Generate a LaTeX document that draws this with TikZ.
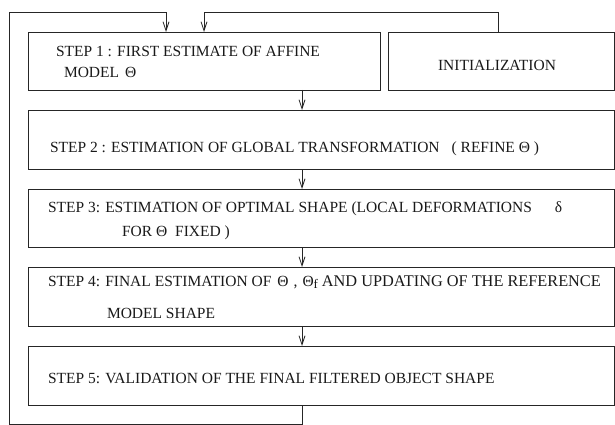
\documentclass[tikz,border=0pt]{standalone}
\usepackage{fontspec}
\setmainfont{Liberation Serif}
\usetikzlibrary{arrows.meta}
\tikzset{
  box/.style={draw=black!85, line width=0.8pt, rectangle, inner sep=0pt, outer sep=0pt, anchor=north west},
  lbl/.style={anchor=base west, inner sep=0pt, outer sep=0pt, font=\fontsize{15.5}{18}\selectfont, text=black!90},
  flow/.style={draw=black!85, line width=0.8pt, -{Straight Barb[length=9pt,width=6pt]}},
}
\begin{document}
\begin{tikzpicture}[x=1pt,y=-1pt]
\useasboundingbox (0,0) rectangle (615,425);
% boxes
\node[box, minimum width=352pt, minimum height=58pt] (step1) at (28,32) {};
\node[box, minimum width=226pt, minimum height=58pt] (init) at (388,32) {};
\node[box, minimum width=586pt, minimum height=59pt] (step2) at (28,110) {};
\node[box, minimum width=586pt, minimum height=58pt] (step3) at (28,189) {};
\node[box, minimum width=586pt, minimum height=59pt] (step4) at (28,267) {};
\node[box, minimum width=586pt, minimum height=59pt] (step5) at (28,346) {};
% texts
\node[lbl] (t1a) at (56,57) {STEP 1 : FIRST ESTIMATE OF AFFINE};
\node[lbl] (t1b) at (64,78) {MODEL\hspace{6pt}Θ};
\node[lbl, anchor=base] (tinit) at (497,71) {INITIALIZATION};
\node[lbl] (t2) at (50,152) {STEP 2 : ESTIMATION OF GLOBAL TRANSFORMATION\hspace{12pt}( REFINE Θ )};
\node[lbl] (t3a) at (48,212) {STEP 3: ESTIMATION OF OPTIMAL SHAPE (LOCAL DEFORMATIONS\hspace{23pt}δ};
\node[lbl] (t3b) at (122,236) {FOR Θ\hspace{8pt}FIXED )};
\node[lbl] (t4a) at (48,286) {STEP 4: FINAL ESTIMATION OF\hspace{6pt}Θ\hspace{5pt},\hspace{5pt}Θ\raisebox{-2.5pt}{\fontsize{13}{15}\selectfont f} {\fontsize{16.3}{18}\selectfont AND UPDATING OF THE REFERENCE}};
\node[lbl] (t4b) at (107,318) {MODEL SHAPE};
\node[lbl] (t5) at (48,383) {STEP 5: VALIDATION OF THE FINAL FILTERED OBJECT SHAPE};
% helper coordinates
\coordinate (ax) at (302,0);
\coordinate (la) at (166,0);
\coordinate (lb) at (204,0);
\coordinate (li) at (498,0);
\coordinate (top) at (0,12);
\coordinate (left) at (9,0);
\coordinate (bot) at (0,424);
% vertical flow arrows
\draw[flow] (ax |- step1.south) -- (ax |- step2.north);
\draw[flow] (ax |- step2.south) -- (ax |- step3.north);
\draw[flow] (ax |- step3.south) -- (ax |- step4.north);
\draw[flow] (ax |- step4.south) -- (ax |- step5.north);
% feedback loop from step 5 to step 1
\draw[flow] (ax |- step5.south) -- (ax |- bot) -- (left |- bot) -- (left |- top) -- (la |- top) -- (la |- step1.north);
% initialization to step 1
\draw[flow] (li |- init.north) -- (li |- top) -- (lb |- top) -- (lb |- step1.north);
\end{tikzpicture}
\end{document}
